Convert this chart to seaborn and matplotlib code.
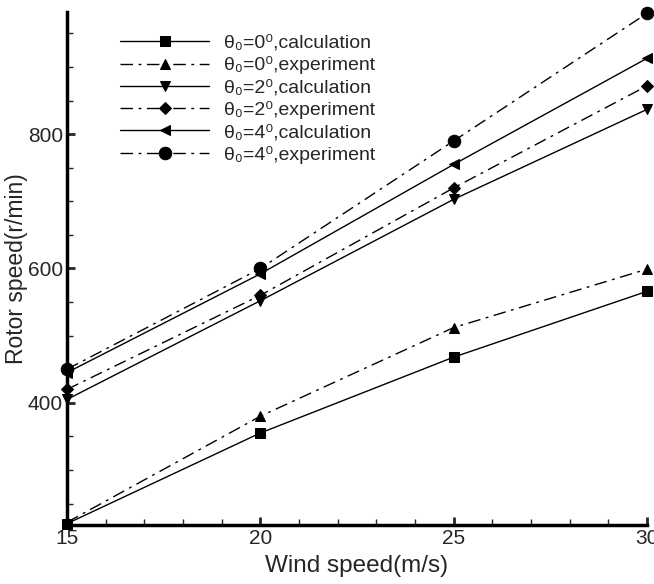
import matplotlib
matplotlib.use("Agg")
import matplotlib.pyplot as plt
from matplotlib.ticker import MultipleLocator, FixedLocator
import seaborn as sns
import pandas as pd

wind = [15, 20, 25, 30]
calc_0 = [220, 355, 468, 566]
exp_0 = [222, 380, 512, 599]
calc_2 = [405, 552, 703, 837]
exp_2 = [420, 560, 720, 872]
calc_4 = [445, 592, 755, 913]
exp_4 = [450, 600, 790, 980]

labels = [
    "θ₀=0⁰,calculation",
    "θ₀=0⁰,experiment",
    "θ₀=2⁰,calculation",
    "θ₀=2⁰,experiment",
    "θ₀=4⁰,calculation",
    "θ₀=4⁰,experiment",
]
series = [calc_0, exp_0, calc_2, exp_2, calc_4, exp_4]
markers = ["s", "^", "v", "D", "<", "o"]
msizes = [7, 7, 7, 6.5, 7, 9]
styles = ["-", (0, (9, 4, 2, 4)), "-", (0, (9, 4, 2, 4)), "-", (0, (9, 4, 2, 4))]

sns.set_style("white")
plt.rcParams["font.family"] = ["Liberation Sans", "DejaVu Sans"]

fig = plt.figure(figsize=(6.54, 5.84), dpi=100)
ax = fig.add_axes([67 / 654, 1 - 525 / 584, 580 / 654, 513 / 584])

for ys, lab, m, ms, ls in zip(series, labels, markers, msizes, styles):
    df = pd.DataFrame({"x": wind, "y": ys})
    sns.lineplot(data=df, x="x", y="y", ax=ax, color="black", marker=m,
                 markersize=ms, markeredgecolor="black", markerfacecolor="black",
                 linewidth=1.0, linestyle=ls, label=lab, clip_on=False)

ax.set_xlim(15, 30)
ax.set_ylim(218, 982)
ax.xaxis.set_major_locator(FixedLocator([15, 20, 25, 30]))
ax.xaxis.set_minor_locator(MultipleLocator(1))
ax.yaxis.set_major_locator(FixedLocator([400, 600, 800]))
ax.yaxis.set_minor_locator(FixedLocator([250, 300, 350, 450, 500, 550, 650, 700, 750, 850, 900, 950]))
ax.tick_params(which="major", direction="in", length=6, width=2, labelsize=15, pad=3)
ax.tick_params(which="minor", direction="in", length=4, width=1)
ax.tick_params(axis="both", which="both", bottom=True, left=True, top=False, right=False)

for s in ["top", "right"]:
    ax.spines[s].set_visible(False)
for s in ["left", "bottom"]:
    ax.spines[s].set_linewidth(2.5)
    ax.spines[s].set_color("black")

ax.set_xlabel("Wind speed(m/s)", fontsize=17.5, labelpad=5)
ax.set_ylabel("Rotor speed(r/min)", fontsize=16.5, labelpad=0)

leg = ax.legend(loc="upper left", bbox_to_anchor=(0.068, 0.983), frameon=False,
                fontsize=14, handlelength=4.6, handletextpad=0.75,
                labelspacing=0.23, borderaxespad=0.3)

fig.savefig("out.png", dpi=100)
